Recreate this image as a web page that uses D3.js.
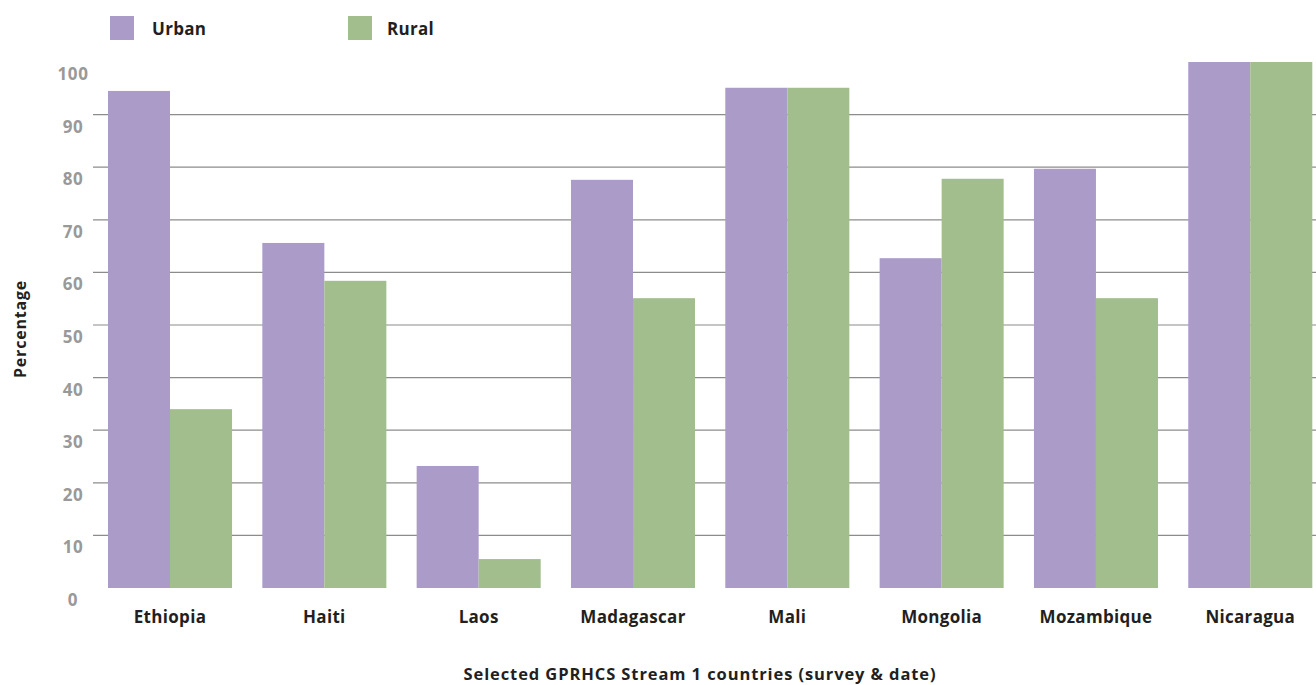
<!DOCTYPE html>
<html>
<head>
<meta charset="utf-8">
<script src="https://cdn.jsdelivr.net/npm/d3@7"></script>
<style>
  html, body { margin: 0; padding: 0; background: #fff; }
  svg { display: block; }
  text { font-family: "Open Sans", "Lato", sans-serif; }
</style>
</head>
<body>
<svg id="chart" width="1316" height="685"></svg>
<script>
const countries = ["Ethiopia", "Haiti", "Laos", "Madagascar", "Mali", "Mongolia", "Mozambique", "Nicaragua"];
const seriesNames = ["Urban", "Rural"];
const urbanValues = [94.5, 65.6, 23.2, 77.6, 95.1, 62.7, 79.7, 100];
const ruralValues = [34.0, 58.4, 5.5, 55.1, 95.1, 77.8, 55.1, 100];
const yTicks = [0, 10, 20, 30, 40, 50, 60, 70, 80, 90, 100];
const gridTicks = [10, 20, 30, 40, 50, 60, 70, 80, 90];
const colors = { Urban: "#ab9bc9", Rural: "#a1be8c" };
const xTitle = "Selected GPRHCS Stream 1 countries (survey & date)";
const yTitle = "Percentage";

const svg = d3.select("#chart");

const x0 = d3.scaleBand().domain(countries).range([93, 1327.3]).paddingInner(0.1963).paddingOuter(0.0972);
const x1 = d3.scaleBand().domain(seriesNames).range([0, x0.bandwidth()]);
const y = d3.scaleLinear().domain([0, 100]).range([588, 62]);

// gridlines
svg.append("g").selectAll("line").data(gridTicks).join("line")
  .attr("x1", 93).attr("x2", 1316)
  .attr("y1", d => y(d)).attr("y2", d => y(d))
  .attr("stroke", "#8c8c8c").attr("stroke-width", 1.2);

// y tick labels
svg.append("g").selectAll("text").data(yTicks).join("text")
  .attr("x", 73).attr("y", d => y(d) + 12)
  .attr("dy", "0.35em")
  .attr("text-anchor", "middle")
  .attr("font-size", 17).attr("font-weight", 700)
  .attr("letter-spacing", 0.6)
  .attr("fill", "#999999")
  .text(d => d);

// bars
const data = countries.map((c, i) => ({ country: c, Urban: urbanValues[i], Rural: ruralValues[i] }));
const groups = svg.append("g").selectAll("g").data(data).join("g")
  .attr("transform", d => `translate(${x0(d.country)},0)`);
groups.selectAll("rect").data(d => seriesNames.map(s => ({ s, v: d[s] }))).join("rect")
  .attr("x", d => x1(d.s))
  .attr("width", x1.bandwidth())
  .attr("y", d => y(d.v))
  .attr("height", d => y(0) - y(d.v))
  .attr("fill", d => colors[d.s]);

// x labels
svg.append("g").selectAll("text").data(countries).join("text")
  .attr("x", d => x0(d) + x0.bandwidth() / 2)
  .attr("y", 617).attr("dy", "0.35em")
  .attr("text-anchor", "middle")
  .attr("font-size", 17).attr("font-weight", 700)
  .attr("letter-spacing", 0.3)
  .attr("fill", "#231f20")
  .text(d => d);

// axis titles
svg.append("text")
  .attr("x", 700).attr("y", 674).attr("dy", "0.35em")
  .attr("text-anchor", "middle")
  .attr("font-size", 16.5).attr("font-weight", 700).attr("fill", "#231f20")
  .attr("letter-spacing", 0.9)
  .text(xTitle);

svg.append("text")
  .attr("transform", "translate(20,329) rotate(-90)")
  .attr("dy", "0.35em")
  .attr("text-anchor", "middle")
  .attr("font-size", 16).attr("font-weight", 700).attr("fill", "#231f20")
  .attr("letter-spacing", 0.8)
  .text(yTitle);

// legend
const legendX = [110, 348];
const legendTextX = [152, 387];
const legend = svg.append("g").selectAll("g").data(seriesNames).join("g");
legend.append("rect")
  .attr("x", (d, i) => legendX[i]).attr("y", 16)
  .attr("width", 24).attr("height", 24).attr("fill", d => colors[d]);
legend.append("text")
  .attr("x", (d, i) => legendTextX[i]).attr("y", 29).attr("dy", "0.35em")
  .attr("font-size", 17).attr("font-weight", 700).attr("fill", "#231f20")
  .attr("letter-spacing", 0.3)
  .text(d => d);
</script>
</body>
</html>
